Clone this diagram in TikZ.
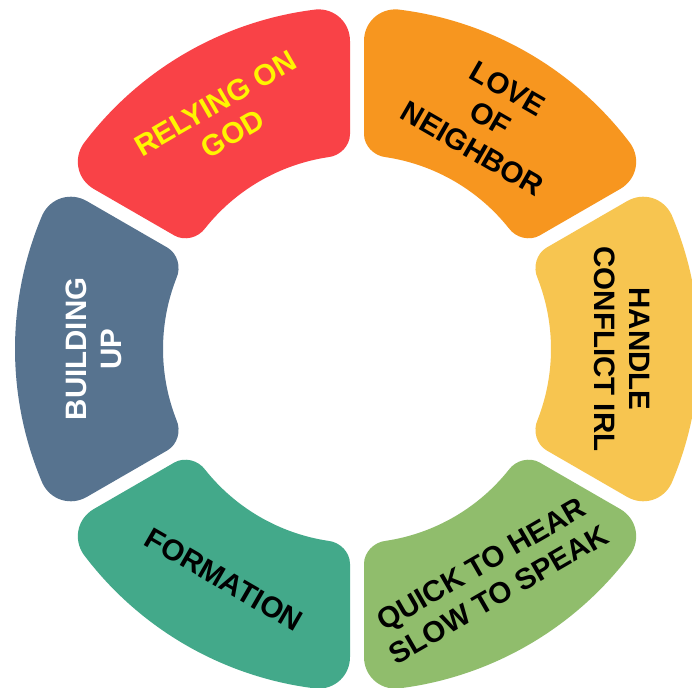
\documentclass[tikz,border=0pt]{standalone}
\usepackage{fontspec}
\setmainfont{Liberation Sans}
\usetikzlibrary{calc}
\definecolor{cred}{HTML}{F94247}
\definecolor{corange}{HTML}{F7961F}
\definecolor{cyellow}{HTML}{F7C550}
\definecolor{cgreen}{HTML}{90BD6C}
\definecolor{cteal}{HTML}{43A98A}
\definecolor{cblue}{HTML}{57738F}
\definecolor{tyellow}{HTML}{FFF500}
\newcommand\ringseg[2]{%
\begin{scope}[rotate=#1]
\coordinate (oa1) at (-23.131:342pt);
\coordinate (oa2) at (23.131:342pt);
\coordinate (oc2) at (28.827:342pt);
\coordinate (oe2) at (28.698:308.008pt);
\coordinate (ie2) at (28.134:214.987pt);
\coordinate (ic2) at (27.921:194pt);
\coordinate (ia2) at (21.390:194pt);
\coordinate (ia1) at (-21.390:194pt);
\coordinate (ic1) at (-27.921:194pt);
\coordinate (ie1) at (-28.134:214.987pt);
\coordinate (oe1) at (-28.698:308.008pt);
\coordinate (oc1) at (-28.827:342pt);
\fill[#2] (oa1) arc[start angle=-23.131,end angle=23.131,radius=342pt]
 .. controls ($(oa2)!0.55!(oc2)$) and ($(oe2)!0.55!(oc2)$) .. (oe2)
 -- (ie2)
 .. controls ($(ie2)!0.55!(ic2)$) and ($(ia2)!0.55!(ic2)$) .. (ia2)
 arc[start angle=21.390,end angle=-21.390,radius=194pt]
 .. controls ($(ia1)!0.55!(ic1)$) and ($(ie1)!0.55!(ic1)$) .. (ie1)
 -- (oe1)
 .. controls ($(oe1)!0.55!(oc1)$) and ($(oa1)!0.55!(oc1)$) .. (oa1) -- cycle;
\end{scope}}
\tikzset{lbl/.style={font=\fontsize{29.5}{35}\selectfont\bfseries, align=center, inner sep=0pt}}
\begin{document}
\begin{tikzpicture}
\useasboundingbox[fill=white] (-357pt,-338pt) rectangle (335pt,349pt);
\ringseg{120}{cred}
\ringseg{60}{corange}
\ringseg{0}{cyellow}
\ringseg{-60}{cgreen}
\ringseg{-120}{cteal}
\ringseg{180}{cblue}
\node[lbl, text=tyellow, rotate=30] (rely) at (120:266pt) {RELYING ON\\GOD};
\node[lbl, text=black, rotate=-30] (love) at (60:266pt) {LOVE\\OF\\NEIGHBOR};
\node[lbl, text=black, rotate=-90] (handle) at (0:265pt) {HANDLE\\CONFLICT IRL};
\node[lbl, text=black, rotate=30] (quick) at (-60:266pt) {QUICK TO HEAR\\SLOW TO SPEAK};
\node[lbl, text=black, rotate=-30] (form) at (-120:266pt) {FORMATION};
\node[lbl, text=white, rotate=90] (build) at (180:263pt) {BUILDING\\UP};
\end{tikzpicture}
\end{document}
